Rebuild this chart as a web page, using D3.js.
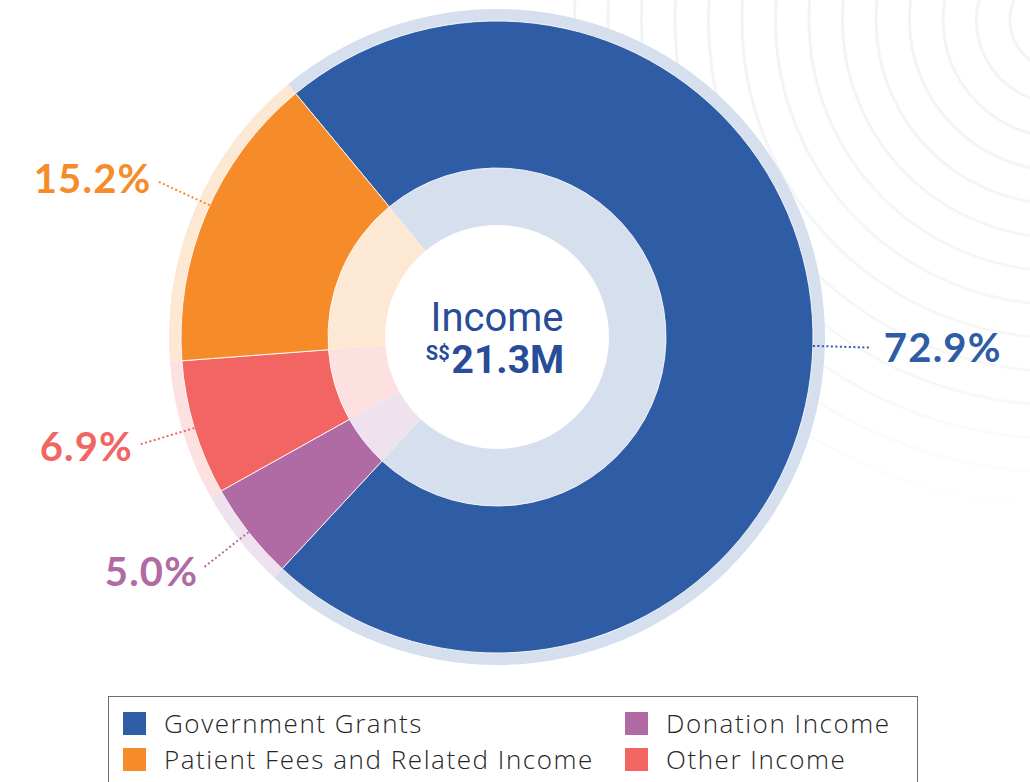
<!DOCTYPE html>
<html>
<head>
<meta charset="utf-8">
<script src="https://cdn.jsdelivr.net/npm/d3@7"></script>
<style>
  html, body { margin: 0; padding: 0; background: #ffffff; }
  svg { display: block; }
</style>
</head>
<body>
<svg id="chart" width="1030" height="782"></svg>
<script>
// ---- data ----
const categories = ["Government Grants", "Donation Income", "Other Income", "Patient Fees and Related Income"];
const values = [72.9, 5.0, 6.9, 15.2];
const labels = ["72.9%", "5.0%", "6.9%", "15.2%"];
const colors = ["#2e5ca5", "#b06ba4", "#f26562", "#f68b2a"];
const tints = ["#d5dfee", "#efe2ef", "#fde0e0", "#fde8d4"];
const legendOrder = ["Government Grants", "Patient Fees and Related Income", "Donation Income", "Other Income"];
const centerTitle = "Income";
const centerCurrency = "S$";
const centerValue = "21.3M";

// ---- layout ----
const W = 1030, H = 782;
const cx = 497, cy = 337;
const rOuterTint = 328, rOuter = 316, rInner = 169, rHole = 112;
const startDeg = -39.6;
// small manual nudge of leader angle (degrees), layout only
const leaderNudge = { "Patient Fees and Related Income": 1.6 };

const svg = d3.select("#chart");

// faint decorative background rings (upper right)
const defs = svg.append("defs");
const grad = defs.append("linearGradient").attr("id", "fade")
  .attr("gradientUnits", "userSpaceOnUse")
  .attr("x1", 0).attr("y1", 0).attr("x2", 0).attr("y2", 530);
grad.append("stop").attr("offset", "0").attr("stop-color", "#f1f3f6").attr("stop-opacity", 1);
grad.append("stop").attr("offset", "0.7").attr("stop-color", "#f4f5f8").attr("stop-opacity", 0.8);
grad.append("stop").attr("offset", "1").attr("stop-color", "#f7f8fa").attr("stop-opacity", 0);
const bg = svg.append("g");
d3.range(50, 500, 33.5).forEach(r => {
  bg.append("circle").attr("cx", 1060).attr("cy", 20).attr("r", r)
    .attr("fill", "none").attr("stroke", "url(#fade)").attr("stroke-width", 3);
});

const pie = d3.pie().sort(null)
  .startAngle(startDeg * Math.PI / 180)
  .endAngle(startDeg * Math.PI / 180 + 2 * Math.PI);
const arcs = pie(values);

const g = svg.append("g").attr("transform", `translate(${cx},${cy})`);

// white disc under the chart to hide background rings
g.append("circle").attr("r", rOuterTint).attr("fill", "#fff");

const arcTint = d3.arc().innerRadius(rOuter - 1).outerRadius(rOuterTint);
const arcMain = d3.arc().innerRadius(rInner).outerRadius(rOuter);
const arcIn = d3.arc().innerRadius(rHole).outerRadius(rInner + 0.5);

g.selectAll("path.tint").data(arcs).join("path").attr("class", "tint")
  .attr("d", arcTint).attr("fill", (d, i) => tints[i]);
g.selectAll("path.inner").data(arcs).join("path").attr("class", "inner")
  .attr("d", arcIn).attr("fill", (d, i) => tints[i]);
g.selectAll("path.main").data(arcs).join("path").attr("class", "main")
  .attr("d", arcMain).attr("fill", (d, i) => colors[i])
  .attr("stroke", "#ffffff").attr("stroke-width", 1).attr("stroke-opacity", 0.85);

// leader lines and labels
const rLineStart = rOuter, rLineEnd = 372, rLabel = 380;
function pt(a, r) { return [Math.sin(a) * r, -Math.cos(a) * r]; }
arcs.forEach((d, i) => {
  const a = (d.startAngle + d.endAngle) / 2 + ((leaderNudge[categories[i]] || 0) * Math.PI / 180);
  const p0 = pt(a, rLineStart), p1 = pt(a, rLineEnd), pl = pt(a, rLabel);
  g.append("line")
    .attr("x1", p0[0]).attr("y1", p0[1]).attr("x2", p1[0]).attr("y2", p1[1])
    .attr("stroke", colors[i]).attr("stroke-width", 2)
    .attr("stroke-dasharray", "2,2.5");
  const right = Math.sin(a) > 0;
  g.append("text")
    .attr("x", pl[0] + (right ? 7 : 0)).attr("y", pl[1])
    .attr("dy", "0.36em")
    .attr("text-anchor", right ? "start" : "end")
    .attr("font-family", "Lato, 'Open Sans', sans-serif")
    .attr("font-weight", 700)
    .attr("font-size", 40)
    .attr("letter-spacing", 1.2)
    .attr("fill", colors[i])
    .text(labels[i]);
});

// centre text
g.append("text").attr("x", 0).attr("y", -6)
  .attr("text-anchor", "middle")
  .attr("font-family", "Roboto, sans-serif")
  .attr("font-size", 40).attr("fill", "#284c98")
  .text(centerTitle);
const vt = g.append("text").attr("x", -2).attr("y", 36)
  .attr("text-anchor", "middle")
  .attr("font-family", "Roboto, sans-serif")
  .attr("font-weight", 700).attr("fill", "#284c98");
vt.append("tspan").attr("font-size", 20).attr("dy", -13).text(centerCurrency);
vt.append("tspan").attr("font-size", 39).attr("dy", 13).attr("dx", 2).text(centerValue);

// legend
const lg = svg.append("g");
lg.append("rect").attr("x", 108.5).attr("y", 696.5).attr("width", 809).attr("height", 120)
  .attr("fill", "#fff").attr("stroke", "#6e6e6e").attr("stroke-width", 1);
const colX = [123, 625], rowY = [712, 748];
legendOrder.forEach((name, k) => {
  const i = categories.indexOf(name);
  const col = Math.floor(k / 2), row = k % 2;
  lg.append("rect").attr("x", colX[col]).attr("y", rowY[row])
    .attr("width", 23).attr("height", 23).attr("fill", colors[i]);
  lg.append("text").attr("x", colX[col] + 41).attr("y", rowY[row] + 21)
    .attr("font-family", "'Open Sans', sans-serif").attr("font-weight", 300)
    .attr("font-size", 26).attr("letter-spacing", 1.55).attr("fill", "#262626")
    .text(name);
});
</script>
</body>
</html>
